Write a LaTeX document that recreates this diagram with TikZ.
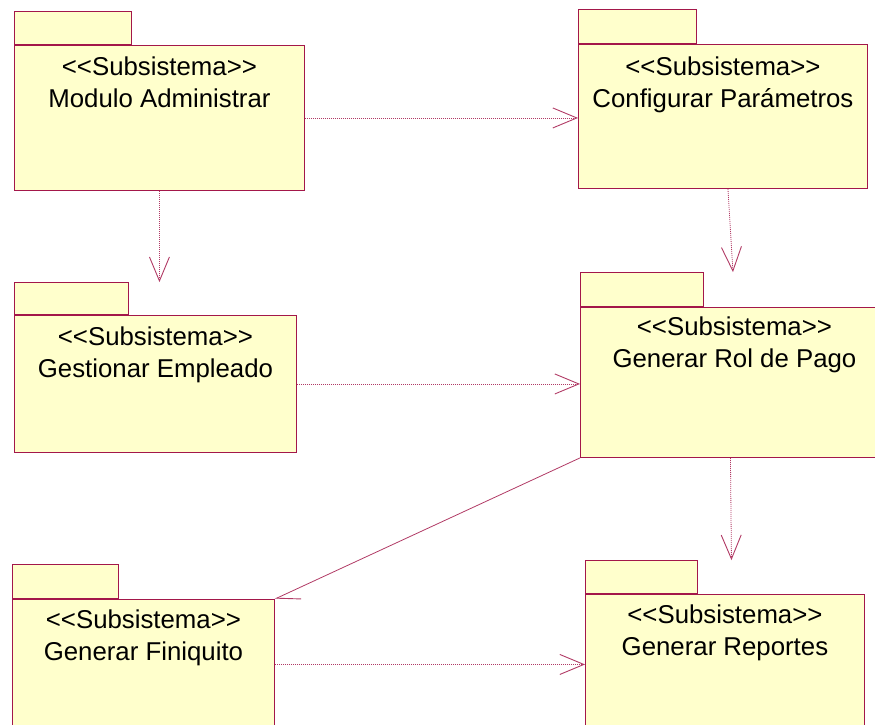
\documentclass[tikz,border=0pt]{standalone}
\usepackage{fontspec}
\setmainfont{Liberation Sans}
\usepackage{xcolor}
\definecolor{umlRed}{HTML}{A3174A}
\definecolor{pkgYellow}{HTML}{FFFFCC}
\usetikzlibrary{arrows.meta, positioning}

\begin{document}
\begin{tikzpicture}[
    x=1pt, y=-1pt,
    pkgBody/.style={draw=umlRed, fill=pkgYellow, anchor=north west, inner sep=0pt, line width=0.9pt},
    pkgTab/.style={draw=umlRed, fill=pkgYellow, inner sep=0pt, line width=0.9pt},
    pkgText/.style={align=center, inner sep=0pt, font=\fontsize{25.8}{32}\selectfont},
    dep/.style={draw=umlRed!85, line width=0.8pt, dash pattern=on 1pt off 1pt, -{Straight Barb[length=24pt, width=20pt, line width=0.9pt]}},
    assoc/.style={draw=umlRed!85, line width=0.8pt, -{Straight Barb[left, length=22pt, width=22pt, line width=0.9pt]}}
]
\useasboundingbox (0,0) rectangle (875,725);
\clip (0,0) rectangle (875,725);

% Left column
\node[pkgBody, minimum width=290pt, minimum height=145pt] (b1) at (14,45) {};
\node[pkgTab, minimum width=117pt, minimum height=33pt, above right=0pt and 0pt of b1.north west] (t1) {};
\node[pkgText, below=12pt of b1.north] (x1) {<{}<Subsistema>{}>\\Modulo Administrar};

\node[pkgBody, minimum width=282pt, minimum height=137pt] (b3) at (14,315) {};
\node[pkgTab, minimum width=114pt, minimum height=32pt, above right=0pt and 0pt of b3.north west] (t3) {};
\node[pkgText, below=12pt of b3.north] (x3) {<{}<Subsistema>{}>\\Gestionar Empleado};

\node[pkgBody, minimum width=262pt, minimum height=130pt] (b5) at (12,599) {};
\node[pkgTab, minimum width=106pt, minimum height=34pt, above right=0pt and 0pt of b5.north west] (t5) {};
\node[pkgText, below=11pt of b5.north] (x5) {<{}<Subsistema>{}>\\Generar Finiquito};

% Right column
\node[pkgBody, minimum width=289pt, minimum height=144pt] (b2) at (578,44) {};
\node[pkgTab, minimum width=118pt, minimum height=34pt, above right=0pt and 0pt of b2.north west] (t2) {};
\node[pkgText, below=13pt of b2.north] (x2) {<{}<Subsistema>{}>\\Configurar Parámetros};

\node[pkgBody, minimum width=308pt, minimum height=150pt] (b4) at (580,307) {};
\node[pkgTab, minimum width=123pt, minimum height=34pt, above right=0pt and 0pt of b4.north west] (t4) {};
\node[pkgText, below=10pt of b4.north] (x4) {<{}<Subsistema>{}>\\Generar Rol de Pago};

\node[pkgBody, minimum width=279pt, minimum height=142pt] (b6) at (585,594) {};
\node[pkgTab, minimum width=112pt, minimum height=33pt, above right=0pt and 0pt of b6.north west] (t6) {};
\node[pkgText, below=11pt of b6.north] (x6) {<{}<Subsistema>{}>\\Generar Reportes};

% Dependencies
\draw[dep] (b1.east) -- (b1.east -| b2.west);
\draw[dep] (b1.south) -- (b1.south |- t3.north);
\draw[dep] ([xshift=5pt]b2.south) -- ([xshift=10pt]b2.south |- t4.north);
\draw[dep] (b3.east) -- (b3.east -| b4.west);
\draw[dep] ([xshift=-4pt]b4.south) -- ([xshift=-3pt]b4.south |- t6.north);
\draw[dep] (b5.east) -- (b5.east -| b6.west);
\draw[assoc] (b4.south west) -- (b5.north east);

\end{tikzpicture}
\end{document}
